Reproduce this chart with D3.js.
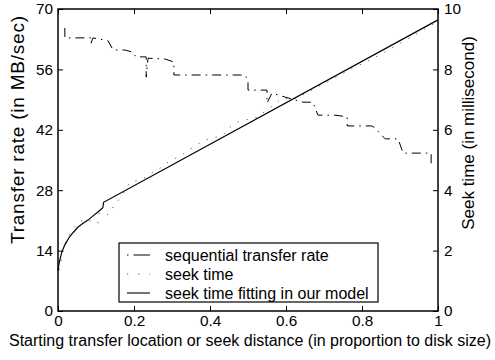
<!DOCTYPE html>
<html><head><meta charset="utf-8">
<script src="https://cdn.jsdelivr.net/npm/d3@7"></script>
<style>body{margin:0;background:#fff}svg{font-family:"Liberation Sans",Arial,Helvetica,sans-serif}</style>
</head><body><svg id="c" width="495" height="360"></svg>
<script>
const xTicks=[0,0.2,0.4,0.6,0.8,1];
const xTickLabels=["0","0.2","0.4","0.6","0.8","1"];
const leftTicks=[0,14,28,42,56,70];
const rightTicks=[0,2,4,6,8,10];

// sequential transfer rate (MB/sec) vs starting location
const rateX=[0.018,0.018,0.032,0.087,0.087,0.092,0.111,0.132,0.145,0.176,0.197,0.205,0.232,0.232,0.237,0.282,0.305,0.305,0.374,0.492,0.5,0.5,0.526,0.55,0.55,0.563,0.597,0.645,0.671,0.684,0.729,0.761,0.761,0.826,0.834,0.861,0.895,0.908,0.966,0.982,0.982];
const rateY=[65.6,63.3,63.3,63.3,62.1,63.3,63.0,62.6,60.5,60.5,60.0,58.9,58.9,54.2,58.6,58.4,57.7,54.7,54.7,54.7,53.5,51.2,51.2,51.2,48.2,50.5,49.6,48.4,48.4,45.4,45.4,45.0,42.9,42.9,42.4,39.9,39.9,36.6,36.6,36.6,33.8];

// measured seek time (ms) vs seek distance
const seekX=[0.003,0.018,0.032,0.055,0.075,0.089,0.105,0.108,0.129,0.137,0.145,0.17,0.19,0.22,0.247,0.274,0.29,0.316,0.334,0.353,0.368,0.397,0.432,0.453,0.474,0.524,0.56,0.59,0.616,0.65,0.708,0.776,0.82,0.87,0.92,0.96,1.0];
const seekY=[1.36,2.22,2.58,2.95,3.05,2.95,2.9,3.24,3.18,3.24,3.44,3.85,4.27,4.35,4.57,4.77,4.93,5.1,5.23,5.4,5.53,5.7,5.8,6.09,6.26,6.42,6.75,7.05,6.99,7.2,7.58,8.05,8.3,8.65,9.0,9.3,9.6];

// seek time fitting in our model (ms)
const fitX=[0,0.003,0.01,0.018,0.03,0.04,0.053,0.065,0.079,0.092,0.105,0.118,0.12,1.0];
const fitY=[1.35,1.59,1.95,2.19,2.45,2.6,2.78,2.9,3.01,3.15,3.28,3.42,3.6,9.64];

const legendLabels=["sequential transfer rate","seek time","seek time fitting in our model"];
const xLabel="Starting transfer location or seek distance (in proportion to disk size)";
const yLeftLabel="Transfer rate (in MB/sec)";
const yRightLabel="Seek time (in millisecond)";

const L=58,R=438,T=9,B=311;
const svg=d3.select("#c");
const x=d3.scaleLinear().domain([0,1]).range([L,R]);
const yL=d3.scaleLinear().domain([0,70]).range([B,T]);
const yR=d3.scaleLinear().domain([0,10]).range([B,T]);

const fs=15.3;
function styleAxis(g){g.select(".domain").remove();g.selectAll(".tick line").attr("stroke","#000").attr("stroke-width",1);g.selectAll("text").attr("font-size",fs).attr("fill","#000").attr("font-family",null);}

svg.append("g").attr("transform",`translate(0,${B})`).call(d3.axisBottom(x).tickValues(xTicks).tickFormat((d,i)=>xTickLabels[i]).tickSizeInner(-5).tickSizeOuter(0).tickPadding(4)).call(styleAxis);
svg.append("g").attr("transform",`translate(0,${T})`).call(d3.axisTop(x).tickValues(xTicks).tickFormat("").tickSizeInner(-5).tickSizeOuter(0)).call(styleAxis);
svg.append("g").attr("transform",`translate(${L},0)`).call(d3.axisLeft(yL).tickValues(leftTicks).tickSizeInner(-5).tickSizeOuter(0).tickPadding(5)).call(styleAxis);
svg.append("g").attr("transform",`translate(${R},0)`).call(d3.axisRight(yR).tickValues(rightTicks).tickSizeInner(-5).tickSizeOuter(0).tickPadding(6)).call(styleAxis);

svg.append("rect").attr("x",L).attr("y",T).attr("width",R-L).attr("height",B-T).attr("fill","none").attr("stroke","#000").attr("stroke-width",1.5);

const rateData=rateX.map((v,i)=>[v,rateY[i]]);
const seekData=seekX.map((v,i)=>[v,seekY[i]]);
const fitData=fitX.map((v,i)=>[v,fitY[i]]);

svg.append("path").datum(rateData).attr("d",d3.line().x(d=>x(d[0])).y(d=>yL(d[1])))
  .attr("fill","none").attr("stroke","#000").attr("stroke-width",1).attr("stroke-dasharray","9,5,1.5,5");
svg.append("path").datum(seekData).attr("d",d3.line().x(d=>x(d[0])).y(d=>yR(d[1])))
  .attr("fill","none").attr("stroke","#555").attr("stroke-width",1).attr("stroke-dasharray","1.2,8");
svg.append("path").datum(fitData).attr("d",d3.line().x(d=>x(d[0])).y(d=>yR(d[1])))
  .attr("fill","none").attr("stroke","#000").attr("stroke-width",1.2);

// legend
const lg=svg.append("g");
lg.append("rect").attr("x",119).attr("y",243).attr("width",259).attr("height",59).attr("fill","#fff").attr("stroke","#000").attr("stroke-width",1.2);
const rowY=[255,274,293];
const styles=[{d:"1.5,5,17,0",c:"#000"},{d:"1.2,10",c:"#555"},{d:null,c:"#000"}];
legendLabels.forEach((t,i)=>{
  const ln=lg.append("line").attr("x1",127).attr("x2",150).attr("y1",rowY[i]).attr("y2",rowY[i]).attr("stroke",styles[i].c).attr("stroke-width",1.1);
  if(styles[i].d) ln.attr("stroke-dasharray",styles[i].d);
  lg.append("text").attr("x",165).attr("y",rowY[i]).attr("dy","0.35em").attr("font-size",16).text(t);
});

svg.append("text").attr("x",250).attr("y",346).attr("text-anchor","middle").attr("font-size",16).text(xLabel);
svg.append("text").attr("transform","translate(24,130) rotate(-90)").attr("text-anchor","middle").attr("font-size",19)
  .attr("textLength",228).attr("lengthAdjust","spacing").text(yLeftLabel);
svg.append("text").attr("transform","translate(474,133) rotate(-90)").attr("text-anchor","middle").attr("font-size",17).text(yRightLabel);
</script></body></html>
